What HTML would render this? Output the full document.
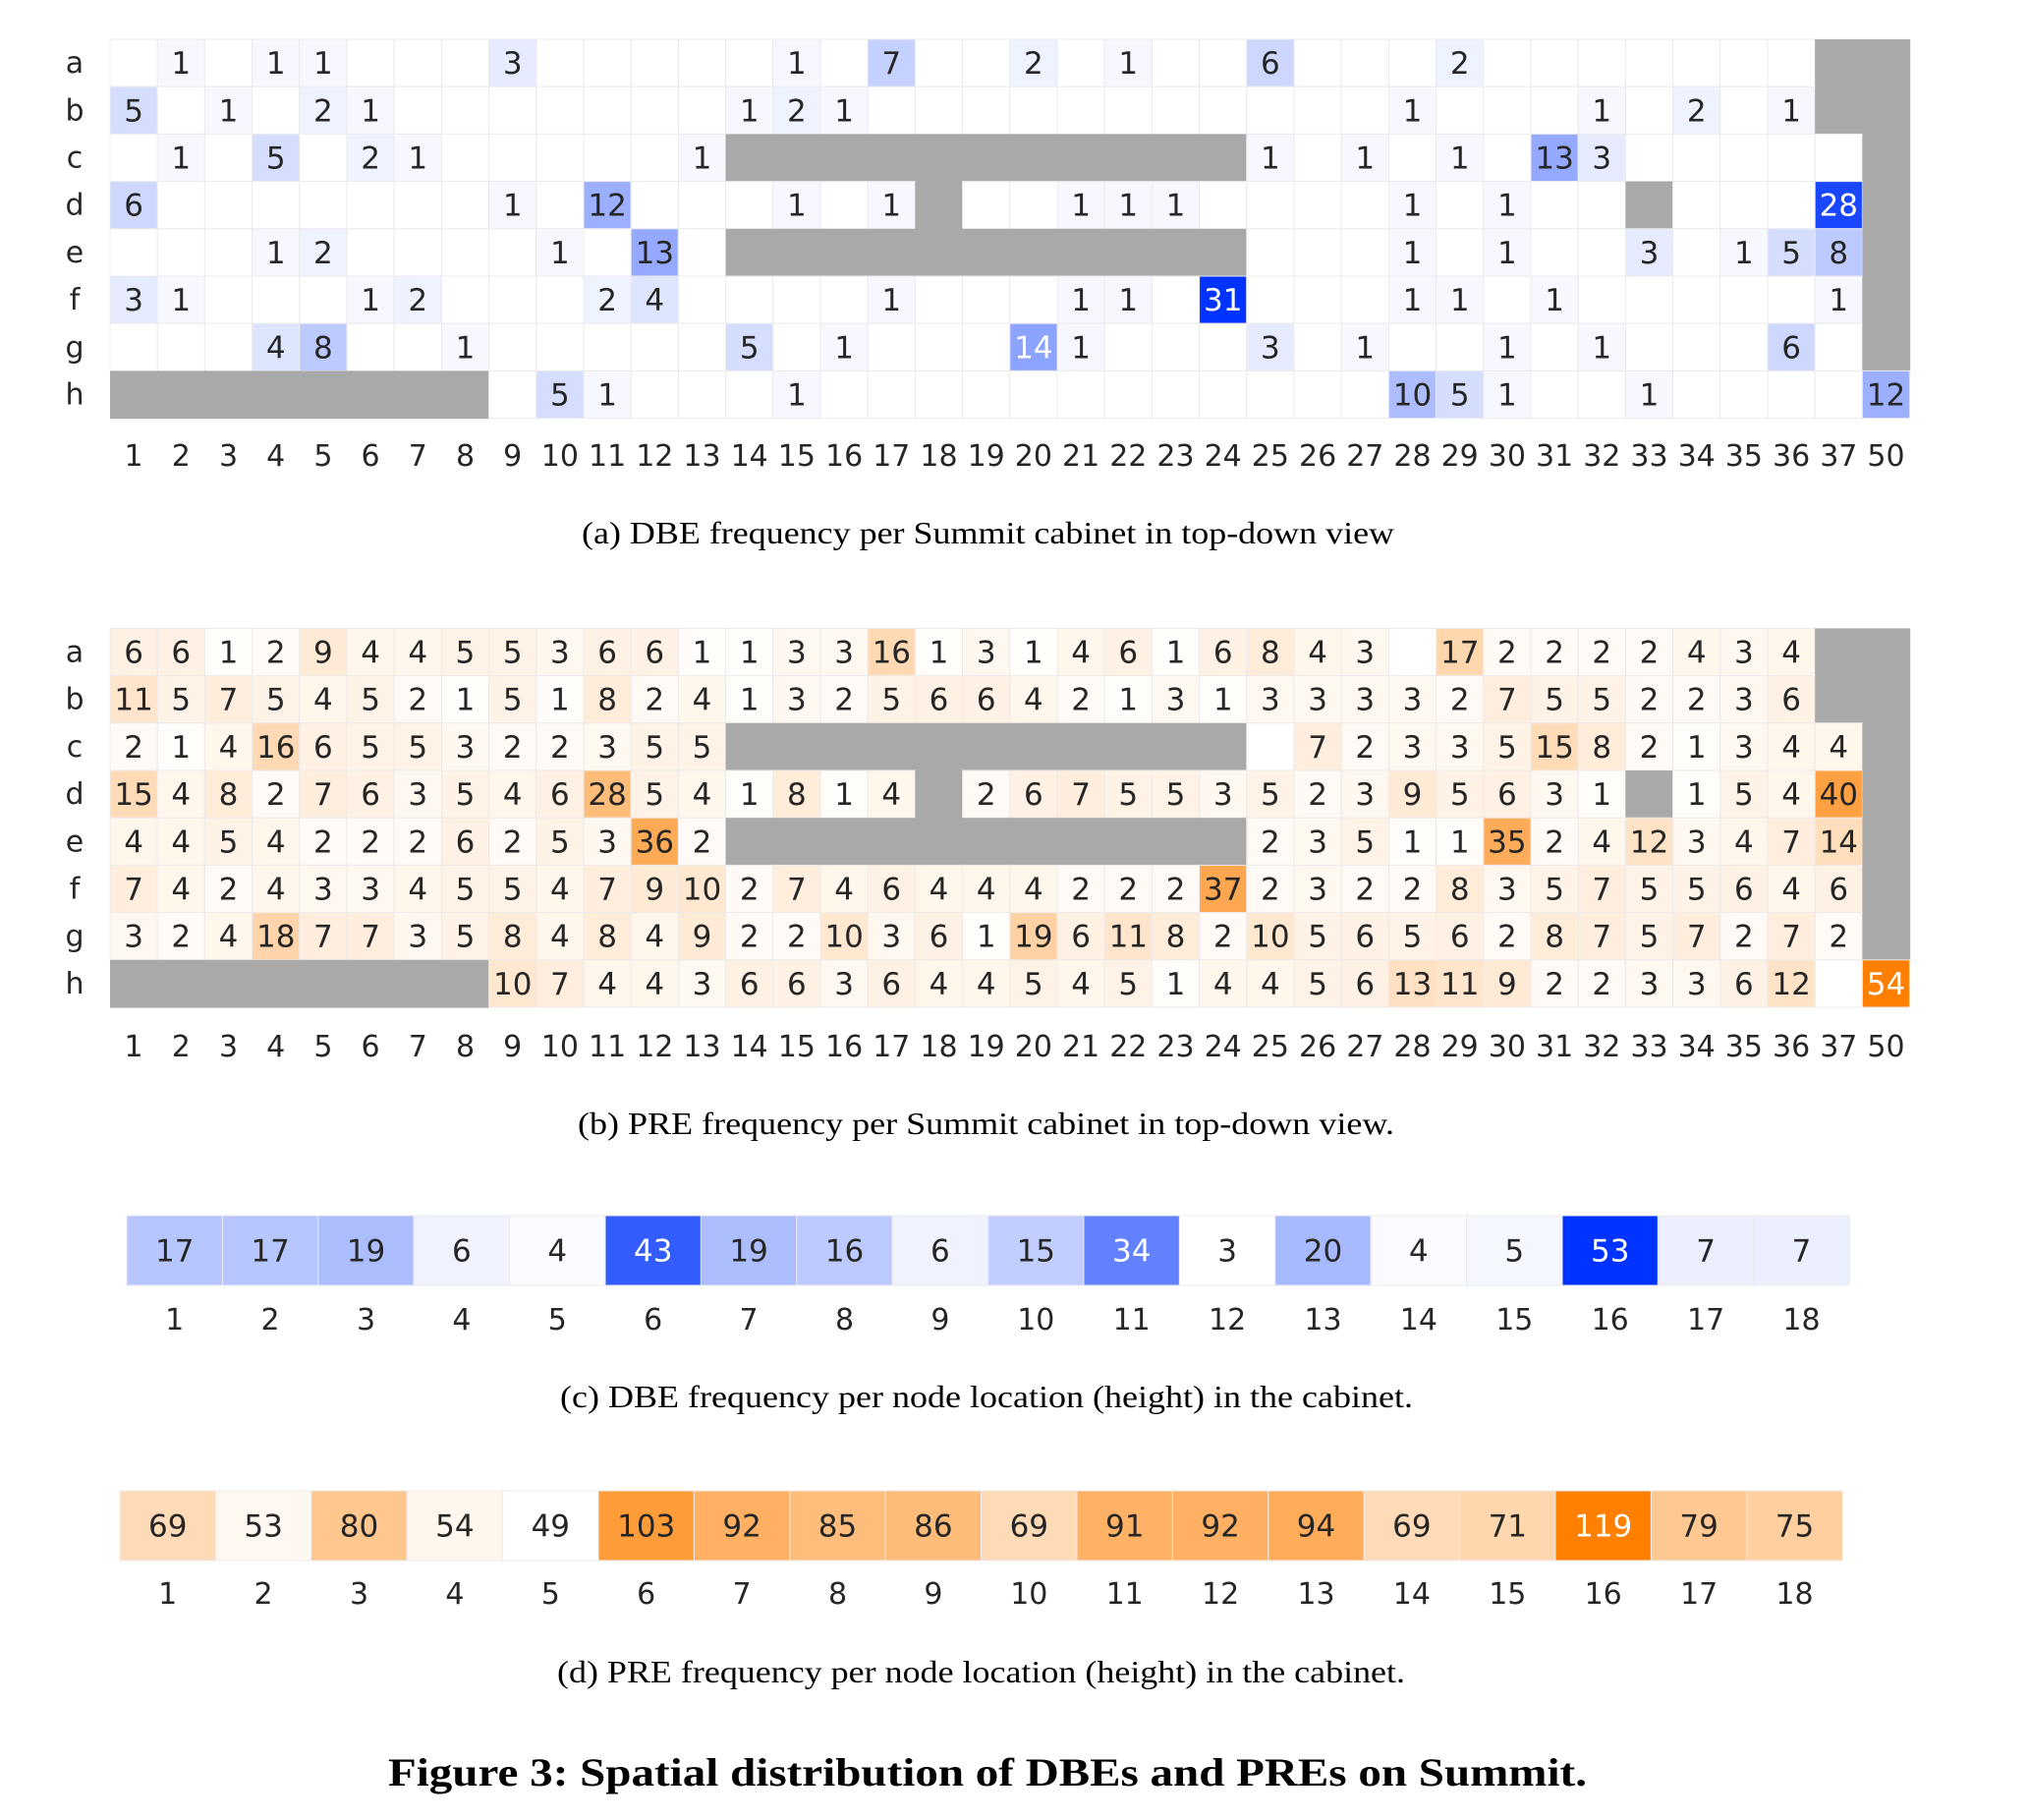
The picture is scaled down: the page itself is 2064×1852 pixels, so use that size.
<!DOCTYPE html>
<html><head><meta charset="utf-8"><style>
html,body{margin:0;padding:0;background:#fff;}
svg{display:block;}
</style></head><body>
<svg id="fig" width="2064" height="1852" viewBox="0 0 2064 1852" xmlns="http://www.w3.org/2000/svg"></svg>
<script>
const colLabels = ["1","2","3","4","5","6","7","8","9","10","11","12","13","14","15","16","17","18","19","20","21","22","23","24","25","26","27","28","29","30","31","32","33","34","35","36","37","50"];
const rowLabels = ["a","b","c","d","e","f","g","h"];
const G = null;
// Panel a: DBE per cabinet
const dbeA = [0,1,0,1,1,0,0,0,3,0,0,0,0,0,1,0,7,0,0,2,0,1,0,0,6,0,0,0,2,0,0,0,0,0,0,0,G,G];
const dbeB = [5,0,1,0,2,1,0,0,0,0,0,0,0,1,2,1,0,0,0,0,0,0,0,0,0,0,0,1,0,0,0,1,0,2,0,1,G,G];
const dbeC = [0,1,0,5,0,2,1,0,0,0,0,0,1,G,G,G,G,G,G,G,G,G,G,G,1,0,1,0,1,0,13,3,0,0,0,0,0,G];
const dbeD = [6,0,0,0,0,0,0,0,1,0,12,0,0,0,1,0,1,G,0,0,1,1,1,0,0,0,0,1,0,1,0,0,G,0,0,0,28,G];
const dbeE = [0,0,0,1,2,0,0,0,0,1,0,13,0,G,G,G,G,G,G,G,G,G,G,G,0,0,0,1,0,1,0,0,3,0,1,5,8,G];
const dbeF = [3,1,0,0,0,1,2,0,0,0,2,4,0,0,0,0,1,0,0,0,1,1,0,31,0,0,0,1,1,0,1,0,0,0,0,0,1,G];
const dbeG = [0,0,0,4,8,0,0,1,0,0,0,0,0,5,0,1,0,0,0,14,1,0,0,0,3,0,1,0,0,1,0,1,0,0,0,6,0,G];
const dbeH = [G,G,G,G,G,G,G,G,0,5,1,0,0,0,1,0,0,0,0,0,0,0,0,0,0,0,0,10,5,1,0,0,1,0,0,0,0,12];
// Panel b: PRE per cabinet
const preA = [6,6,1,2,9,4,4,5,5,3,6,6,1,1,3,3,16,1,3,1,4,6,1,6,8,4,3,0,17,2,2,2,2,4,3,4,G,G];
const preB = [11,5,7,5,4,5,2,1,5,1,8,2,4,1,3,2,5,6,6,4,2,1,3,1,3,3,3,3,2,7,5,5,2,2,3,6,G,G];
const preC = [2,1,4,16,6,5,5,3,2,2,3,5,5,G,G,G,G,G,G,G,G,G,G,G,0,7,2,3,3,5,15,8,2,1,3,4,4,G];
const preD = [15,4,8,2,7,6,3,5,4,6,28,5,4,1,8,1,4,G,2,6,7,5,5,3,5,2,3,9,5,6,3,1,G,1,5,4,40,G];
const preE = [4,4,5,4,2,2,2,6,2,5,3,36,2,G,G,G,G,G,G,G,G,G,G,G,2,3,5,1,1,35,2,4,12,3,4,7,14,G];
const preF = [7,4,2,4,3,3,4,5,5,4,7,9,10,2,7,4,6,4,4,4,2,2,2,37,2,3,2,2,8,3,5,7,5,5,6,4,6,G];
const preG = [3,2,4,18,7,7,3,5,8,4,8,4,9,2,2,10,3,6,1,19,6,11,8,2,10,5,6,5,6,2,8,7,5,7,2,7,2,G];
const preH = [G,G,G,G,G,G,G,G,10,7,4,4,3,6,6,3,6,4,4,5,4,5,1,4,4,5,6,13,11,9,2,2,3,3,6,12,0,54];
// Panels c, d: per node height
const heightLabels = ["1","2","3","4","5","6","7","8","9","10","11","12","13","14","15","16","17","18"];
const dbeHeight = [17,17,19,6,4,43,19,16,6,15,34,3,20,4,5,53,7,7];
const preHeight = [69,53,80,54,49,103,92,85,86,69,91,92,94,69,71,119,79,75];

const NS = "http://www.w3.org/2000/svg";
const svg = document.getElementById('fig');
const FONT = '"DejaVu Sans","Liberation Sans",sans-serif';
function mk(tag, attrs, parent){const e=document.createElementNS(NS,tag);for(const k in attrs)e.setAttribute(k,attrs[k]);(parent||svg).appendChild(e);return e;}

function colorFor(v, vmin, vmax, end){
  let t=(v-vmin)/(vmax-vmin); t=Math.max(0,Math.min(1,t));
  const r=Math.round(255+(end[0]-255)*t), g=Math.round(255+(end[1]-255)*t), b=Math.round(255+(end[2]-255)*t);
  const lin=c=>{c/=255;return c<=0.03928?c/12.92:Math.pow((c+0.055)/1.055,2.4);};
  const L=0.2126*lin(r)+0.7152*lin(g)+0.0722*lin(b);
  return {fill:`rgb(${r},${g},${b})`, text: L<0.408?'#ffffff':'#262626'};
}
const BLUE=[0,51,255], ORANGE=[255,127,0];

function grid(name, rows, x0, y0, cw, ch, vmin, vmax, end){
  const g=mk('g',{});
  
  
  const xs=i=>x0+i*cw, ys=j=>y0+j*ch;
  rows.forEach((row,j)=>{
    row.forEach((v,i)=>{
      if(v===null){
        const r=mk('rect',{x:xs(i),y:ys(j),width:cw+0.6,height:ch+0.6,fill:'#a9a9a9'},g);
        
        
        return;
      }
      const c=colorFor(v,vmin,vmax,end);
      const r=mk('rect',{x:xs(i),y:ys(j),width:cw,height:ch,fill:c.fill,stroke:'#ebebeb','stroke-width':1},g);
      
      
      if(v>0){
        const t=mk('text',{x:xs(i)+cw/2,y:ys(j)+ch/2+11,'text-anchor':'middle','font-size':31,'font-family':FONT,fill:c.text},g);
        t.textContent=v;
        
        
      }
    });
  });
  return {g,xs,ys};
}
function xticks(labels, xs, cw, y, parent){
  labels.forEach((l,i)=>{
    const t=mk('text',{x:xs(i)+cw/2,y:y+11,'text-anchor':'middle','font-size':30,'font-family':FONT,fill:'#262626'},parent);
    t.textContent=l;
    
    
  });
}
function yticks(labels, ys, ch, x, parent){
  labels.forEach((l,j)=>{
    const t=mk('text',{x:x,y:ys(j)+ch/2+10,'text-anchor':'middle','font-size':30,'font-family':FONT,fill:'#262626'},parent);
    t.textContent=l;
    
    
  });
}
function caption(name, txt, x1, x2, y, size, bold){
  const t=mk('text',{x:(x1+x2)/2,y:y,'text-anchor':'middle','font-size':size,'font-family':'"Liberation Serif",serif',fill:'#000','font-weight':bold?'bold':'normal',textLength:x2-x1,lengthAdjust:'spacingAndGlyphs'});
  t.textContent=txt;
  
  
}

const CW=48.2;
// Panel a
const pa=grid('dbe-cabinet-heatmap',[dbeA,dbeB,dbeC,dbeD,dbeE,dbeF,dbeG,dbeH],112,40,CW,48.2,0,31,BLUE);
xticks(colLabels,pa.xs,CW,463,pa.g); yticks(rowLabels,pa.ys,48.2,76,pa.g);
caption('caption-a','(a)  DBE frequency per Summit cabinet in top-down view',592,1419,553,32,false);
// Panel b
const pb=grid('pre-cabinet-heatmap',[preA,preB,preC,preD,preE,preF,preG,preH],112,639.4,CW,48.2,0,54,ORANGE);
xticks(colLabels,pb.xs,CW,1064,pb.g); yticks(rowLabels,pb.ys,48.2,76,pb.g);
caption('caption-b','(b)  PRE frequency per Summit cabinet in top-down view.',588,1419,1154,32,false);
// Panel c
const pc=grid('dbe-height-heatmap',[dbeHeight],129,1237,97.4,71,3,53,BLUE);
xticks(heightLabels,pc.xs,97.4,1342,pc.g);
caption('caption-c','(c)  DBE frequency per node location (height) in the cabinet.',570,1438,1432,32,false);
// Panel d
const pd=grid('pre-height-heatmap',[preHeight],122,1517,97.4,71,49,119,ORANGE);
xticks(heightLabels,pd.xs,97.4,1621,pd.g);
caption('caption-d','(d)  PRE frequency per node location (height) in the cabinet.',567,1430,1712,32,false);
caption('figure-title','Figure 3: Spatial distribution of DBEs and PREs on Summit.',395,1615,1817,40,true);
</script>
</body></html>
